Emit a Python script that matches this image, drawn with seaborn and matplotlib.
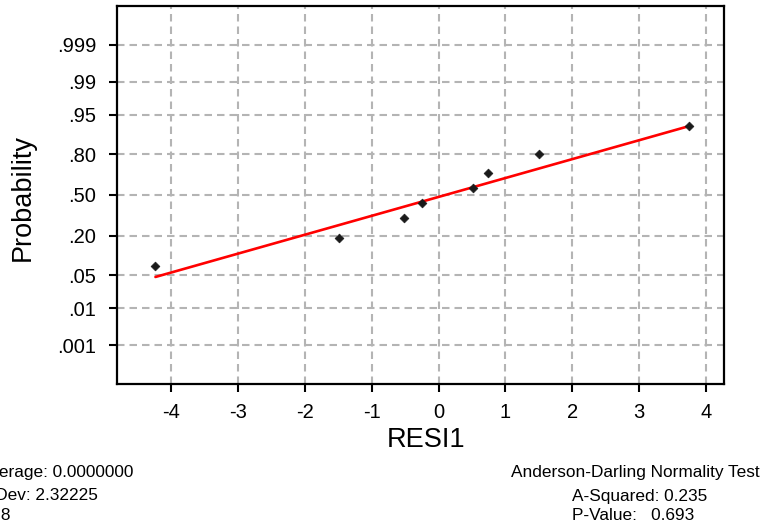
import numpy as np
import pandas as pd
import matplotlib
matplotlib.use("Agg")
import matplotlib.pyplot as plt
import seaborn as sns
from statistics import NormalDist

# ---- data ----
resid = [-4.23, -1.49, -0.51, -0.25, 0.52, 0.74, 1.50, 3.75]
prob = [0.073, 0.190, 0.315, 0.436, 0.554, 0.676, 0.801, 0.922]
fit_x = [-4.23, 3.75]
fit_p = [0.046, 0.922]
xticks = [-4, -3, -2, -1, 0, 1, 2, 3, 4]
yticks = [0.001, 0.01, 0.05, 0.20, 0.50, 0.80, 0.95, 0.99, 0.999]
ytick_labels = [".001", ".01", ".05", ".20", ".50", ".80", ".95", ".99", ".999"]
stats_left = ["Average: 0.0000000", "StDev: 2.32225", "N: 8"]
stats_right = ["Anderson-Darling Normality Test", "A-Squared: 0.235", "P-Value:   0.693"]

sns.set_style("ticks")
plt.rcParams["font.family"] = ["Liberation Sans", "DejaVu Sans"]
plt.rcParams["text.color"] = "black"
plt.rcParams["axes.labelcolor"] = "black"
plt.rcParams["xtick.color"] = "black"
plt.rcParams["ytick.color"] = "black"

_nd = NormalDist()
_ppf = np.vectorize(lambda p: _nd.inv_cdf(min(max(float(p), 1e-12), 1 - 1e-12)),
                    otypes=[float])
_cdf = np.vectorize(lambda z: _nd.cdf(float(z)), otypes=[float])


def fwd(p):
    return _ppf(np.asarray(p, dtype=float))


def inv(z):
    return _cdf(np.asarray(z, dtype=float))


df = pd.DataFrame({"RESI1": resid, "Probability": prob})
fit = pd.DataFrame({"RESI1": fit_x, "Probability": fit_p})

fig = plt.figure(figsize=(7.66, 5.27), dpi=100)
ax = fig.add_axes([117.3 / 766, 1 - 384 / 527, (724.3 - 117.3) / 766, (384 - 6) / 527])
ax.set_yscale("function", functions=(fwd, inv))

sns.lineplot(data=fit, x="RESI1", y="Probability", ax=ax, color="#ff0000",
             linewidth=1.9, zorder=3)
sns.scatterplot(data=df, x="RESI1", y="Probability", ax=ax, marker="D",
                s=20, color="#1a1a1a", edgecolor="#1a1a1a", linewidth=0.5, zorder=4)

ax.set_xlim(-4.8, 4.27)
ax.set_ylim(float(inv(-3.885)), float(inv(3.885)))
ax.set_xticks(xticks)
ax.set_xticklabels([str(t) for t in xticks])
ax.set_yticks(yticks)
ax.set_yticklabels(ytick_labels)
ax.yaxis.set_minor_locator(matplotlib.ticker.NullLocator())

ax.grid(True, color="#b4b4b4", linestyle=(0, (3.6, 2.4)), linewidth=1.5, zorder=0)
ax.set_axisbelow(True)
for sp in ax.spines.values():
    sp.set_linewidth(1.6)
    sp.set_color("black")
ax.tick_params(axis="both", direction="out", length=6, width=1.5,
               labelsize=14.5, colors="black")
ax.tick_params(axis="y", pad=9)
ax.tick_params(axis="x", pad=8)

ax.set_xlabel("RESI1", fontsize=19.5, color="black")
ax.set_ylabel("Probability", fontsize=19.5, color="black")
ax.xaxis.label.set_va("center")
ax.yaxis.label.set_va("center")
ax.xaxis.set_label_coords((425.8 - 117.3) / 607, (384 - 440) / 378)
ax.yaxis.set_label_coords((22.5 - 117.3) / 607, (384 - 197.5) / 378)

ys = [473, 496, 515]
for txt, y in zip(stats_left, ys):
    fig.text(-21 / 766, 1 - y / 527, txt, ha="left", va="center", fontsize=12.4,
             color="black")
fig.text(511 / 766, 1 - ys[0] / 527, stats_right[0], ha="left", va="center",
         fontsize=12.4, color="black")
for txt, y in zip(stats_right[1:], ys[1:]):
    fig.text(571.7 / 766, 1 - y / 527, txt, ha="left", va="center", fontsize=12.4,
             color="black")

fig.savefig("out.png", dpi=100)
